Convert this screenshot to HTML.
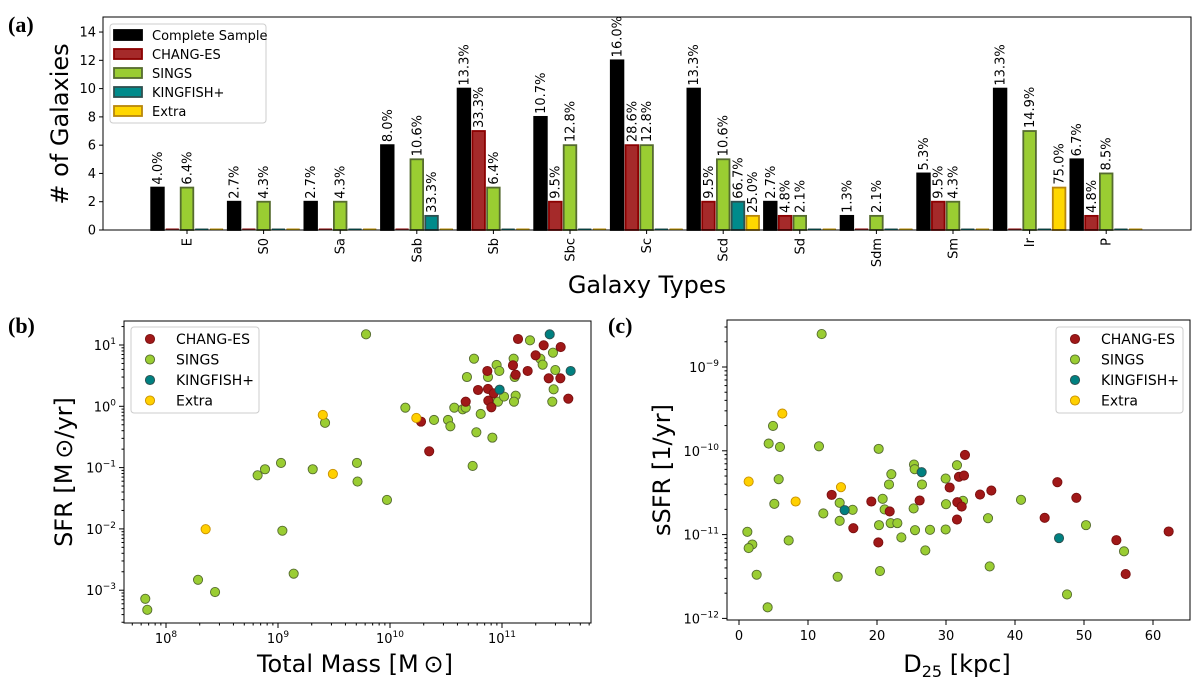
<!DOCTYPE html>
<html><head><meta charset="utf-8"><style>
html,body{margin:0;padding:0;background:#fff}
svg{display:block;font-family:"DejaVu Sans","Liberation Sans",sans-serif}
.pl{font-family:"Liberation Serif",serif;font-weight:bold;font-size:22px}
</style></head><body>
<svg id="fig" width="1200" height="691" viewBox="0 0 1200 691" xmlns="http://www.w3.org/2000/svg"></svg>
<script>
// ---------- Panel (a) data ----------
const categories = ["E","S0","Sa","Sab","Sb","Sbc","Sc","Scd","Sd","Sdm","Sm","Ir","P"];
const seriesNames = ["Complete Sample","CHANG-ES","SINGS","KINGFISH+","Extra"];
const completeCounts = [3,2,2,6,10,8,12,10,2,1,4,10,5];
const changesCounts  = [0,0,0,0,7,2,6,2,1,0,2,0,1];
const singsCounts    = [3,2,2,5,3,6,6,5,1,1,2,7,4];
const kingfishCounts = [0,0,0,1,0,0,0,2,0,0,0,0,0];
const extraCounts    = [0,0,0,0,0,0,0,1,0,0,0,3,0];
const completePct = ["4.0%","2.7%","2.7%","8.0%","13.3%","10.7%","16.0%","13.3%","2.7%","1.3%","5.3%","13.3%","6.7%"];
const changesPct  = ["","","","","33.3%","9.5%","28.6%","9.5%","4.8%","","9.5%","","4.8%"];
const singsPct    = ["6.4%","4.3%","4.3%","10.6%","6.4%","12.8%","12.8%","10.6%","2.1%","2.1%","4.3%","14.9%","8.5%"];
const kingfishPct = ["","","","33.3%","","","","66.7%","","","","",""];
const extraPct    = ["","","","","","","","25.0%","","","","75.0%",""];
const yTicksA = [0,2,4,6,8,10,12,14];

// ---------- Panel (b) data: [log10 mass, log10 SFR] ----------
const massSings = [9.786,7.815,7.833,8.286,8.438,8.818,8.884,9.027,9.039,9.14,9.31,9.42,9.705,9.71,9.973,10.137,10.393,10.518,10.539,10.574,10.649,10.676,10.687,10.738,10.75,10.771,10.81,10.875,10.914,10.905,10.952,10.976,10.964,11.018,11.104,11.113,11.122,11.107,11.25,11.342,11.363,11.455,11.476,11.461,11.449];
const sfrSings  = [1.174,-3.14,-3.32,-2.83,-3.03,-1.125,-1.027,-0.924,-2.03,-2.73,-1.027,-0.27,-0.924,-1.228,-1.527,-0.022,-0.223,-0.223,-0.326,-0.022,-0.049,-0.022,0.478,-0.973,0.777,-0.424,-0.125,0.478,-0.511,0.076,0.674,0.576,0.076,0.158,0.777,0.478,0.174,0.076,1.076,0.777,0.679,0.875,0.592,0.277,0.076];
const massChanges = [10.277,10.35,10.676,10.786,10.869,10.875,10.878,10.905,10.926,11.098,11.122,11.143,11.229,11.3,11.372,11.417,11.524,11.521,11.592];
const sfrChanges  = [-0.25,-0.734,0.076,0.266,0.576,0.283,0.092,-0.016,0.212,0.668,0.516,1.098,0.576,0.832,0.995,0.457,0.967,0.457,0.125];
const massKingfish = [10.979,11.426,11.613];
const sfrKingfish  = [0.272,1.174,0.576];
const massExtra = [8.354,9.40,9.49,10.235];
const sfrExtra  = [-2.005,-0.141,-1.103,-0.19];

// ---------- Panel (c) data: [D25 kpc, log10 sSFR] ----------
const dSings = [11.98,4.93,4.30,5.94,5.75,5.12,1.21,1.93,1.40,2.56,4.15,7.20,11.59,12.22,14.59,16.47,14.59,14.30,20.24,22.08,21.74,20.82,21.11,20.29,21.98,22.95,23.53,20.43,25.36,25.46,26.52,25.31,25.51,27.68,27.0,29.95,30.0,29.95,31.59,32.46,36.09,36.33,40.87,47.54,50.29,55.80];
const ssfrSings = [-8.607,-9.703,-9.914,-9.954,-10.339,-10.633,-10.967,-11.118,-11.161,-11.479,-11.868,-11.07,-9.946,-10.748,-10.621,-10.704,-10.836,-11.503,-9.977,-10.279,-10.402,-10.573,-10.7,-10.887,-10.863,-10.863,-11.034,-11.435,-10.164,-10.22,-10.402,-10.688,-10.947,-10.943,-11.189,-10.331,-10.637,-10.939,-10.172,-10.597,-10.804,-11.38,-10.585,-11.714,-10.887,-11.2];
const dChanges = [13.43,16.57,19.18,20.19,21.84,26.18,30.53,31.88,32.61,32.75,31.64,32.27,31.59,34.93,36.57,44.30,46.14,48.89,54.69,56.04,62.27];
const ssfrChanges = [-10.526,-10.923,-10.605,-11.094,-10.724,-10.593,-10.438,-10.311,-10.295,-10.049,-10.613,-10.665,-10.82,-10.522,-10.474,-10.8,-10.375,-10.561,-11.066,-11.471,-10.963];
const dKingfish = [15.31,26.47,46.38];
const ssfrKingfish = [-10.708,-10.255,-11.042];
const dExtra = [1.40,6.28,8.21,14.78];
const ssfrExtra = [-10.367,-9.556,-10.605,-10.434];

const NS="http://www.w3.org/2000/svg";
const svg=document.getElementById('fig');
function mk(tag,attrs,parent,text){const e=document.createElementNS(NS,tag);for(const k in attrs)e.setAttribute(k,attrs[k]);if(text!==undefined)e.textContent=text;(parent||svg).appendChild(e);return e;}

// ================= Panel (a) =================
const A={l:103,r:1191,t:17,b:230};
const xA=i=>187+76.6*i;
const yA=v=>A.b-v*14.14;
const fills=["#000000","#a52a2a","#9acd32","#008b8b","#ffd700"];
const strokes=["#000000","#8b0000","#556b2f","#2f4f4f","#b8860b"];
const countsAll=[completeCounts,changesCounts,singsCounts,kingfishCounts,extraCounts];
const pctAll=[completePct,changesPct,singsPct,kingfishPct,extraPct];
const gA=mk('g',{});


let t=mk('text',{x:8,y:32,class:'pl'},gA,'(a)');


for(let s=0;s<5;s++){
  for(let i=0;i<categories.length;i++){
    const cx=xA(i)+(s-2)*14.75;
    const v=countsAll[s][i];
    const h=Math.max(v*14.14,1.2);
    const r=mk('rect',{x:cx-6.3,y:A.b-h,width:12.6,height:h,fill:fills[s],stroke:strokes[s],'stroke-width':v>0?1.8:0.6},gA);
    
    
    if(v>0&&pctAll[s][i]){
      const tx=cx+4.5,ty=A.b-h-3;
      const lt=mk('text',{x:tx,y:ty,'font-size':13,transform:`rotate(-90 ${tx} ${ty})`,fill:'#000'},gA,pctAll[s][i]);
      
      
    }
  }
}
mk('rect',{x:A.l,y:A.t,width:A.r-A.l,height:A.b-A.t,fill:'none',stroke:'#000','stroke-width':1},gA);
for(const v of yTicksA){
  mk('line',{x1:A.l-4,x2:A.l,y1:yA(v),y2:yA(v),stroke:'#000'},gA);
  const tl=mk('text',{x:A.l-7,y:yA(v)+4.5,'font-size':13,'text-anchor':'end'},gA,String(v));
  
  
}
categories.forEach((c,i)=>{
  mk('line',{x1:xA(i),x2:xA(i),y1:A.b,y2:A.b+4,stroke:'#000'},gA);
  const tx=xA(i)+4.5,ty=A.b+8;
  const tl=mk('text',{x:tx,y:ty,'font-size':13,'text-anchor':'end',transform:`rotate(-90 ${tx} ${ty})`},gA,c);
  
  
});
t=mk('text',{x:647,y:293,'font-size':24,'text-anchor':'middle'},gA,'Galaxy Types');


t=mk('text',{x:68,y:124,'font-size':24,'text-anchor':'middle',transform:'rotate(-90 68 124)'},gA,'# of Galaxies');


const legA=mk('g',{},gA);


mk('rect',{x:110,y:24,width:156,height:99,rx:3,fill:'#fff',stroke:'#ccc','fill-opacity':0.85},legA);
seriesNames.forEach((n,s)=>{
  const y=35+s*19;
  const e=mk('g',{},legA);
  
  
  mk('rect',{x:114,y:y-5,width:28,height:10,fill:fills[s],stroke:strokes[s],'stroke-width':1.8},e);
  mk('text',{x:152,y:y+5,'font-size':13},e,n);
});

// ================= scatter helper =================
const sc=[
  {name:'CHANG-ES',fill:'#a01818',stroke:'#7a1010'},
  {name:'SINGS',fill:'#9acd32',stroke:'#556b2f'},
  {name:'KINGFISH+',fill:'#008080',stroke:'#2f4f4f'},
  {name:'Extra',fill:'#ffd000',stroke:'#c89000'}];
function supLabel(g,x,y,base,exp,anchor){
  const te=mk('text',{x:x,y:y,'font-size':13,'text-anchor':anchor},g);
  mk('tspan',{},te,base);
  mk('tspan',{dy:-6,'font-size':9},te,exp);
  
  
  return te;
}
function scatter(g,xs,ys,fx,fy,st,label){
  xs.forEach((v,i)=>{
    const c=mk('circle',{cx:fx(v),cy:fy(ys[i]),r:4.6,fill:st.fill,stroke:st.stroke,'stroke-width':0.9},g);
    
    
  });
}
function legend(g,x,y,w){
  const lg=mk('g',{},g);
  
  
  mk('rect',{x:x,y:y,width:w,height:86,rx:3,fill:'#fff',stroke:'#ccc','fill-opacity':0.85},lg);
  sc.forEach((s,i)=>{
    const yy=y+12+i*20.5;
    const e=mk('g',{},lg);
    
    
    mk('circle',{cx:x+19,cy:yy,r:4.6,fill:s.fill,stroke:s.stroke,'stroke-width':0.9},e);
    mk('text',{x:x+45,y:yy+5,'font-size':14},e,s.name);
  });
}

// ================= Panel (b) =================
const B={l:124,r:591,t:321,b:623};
const xB=lx=>166+(lx-8)*112;
const yB=ly=>345-(ly-1)*61.3;
const gB=mk('g',{});


t=mk('text',{x:8,y:333,class:'pl'},gB,'(b)');


mk('rect',{x:B.l,y:B.t,width:B.r-B.l,height:B.b-B.t,fill:'none',stroke:'#000'},gB);
for(let d=7;d<=11;d++){
  for(let m=1;m<10;m++){
    const x=xB(d+Math.log10(m));
    if(x<B.l||x>B.r)continue;
    mk('line',{x1:x,x2:x,y1:B.b,y2:B.b+(m==1?5:2.5),stroke:'#000'},gB);
  }
  if(xB(d)>B.l) supLabel(gB,xB(d),B.b+20,'10',String(d),'middle');
}
for(let d=-4;d<=1;d++){
  for(let m=1;m<10;m++){
    const y=yB(d+Math.log10(m));
    if(y<B.t||y>B.b)continue;
    mk('line',{x1:B.l-(m==1?5:2.5),x2:B.l,y1:y,y2:y,stroke:'#000'},gB);
  }
  if(yB(d)<B.b&&yB(d)>B.t) supLabel(gB,B.l-8,yB(d)+5,'10',d<0?'\u2212'+(-d):String(d),'end');
}
scatter(gB,massSings,sfrSings,xB,yB,sc[1],'sings');
scatter(gB,massChanges,sfrChanges,xB,yB,sc[0],'chang-es');
scatter(gB,massKingfish,sfrKingfish,xB,yB,sc[2],'kingfish');
scatter(gB,massExtra,sfrExtra,xB,yB,sc[3],'extra');
legend(gB,131,327,128);
t=mk('text',{x:355,y:672,'font-size':24,'text-anchor':'middle'},gB,'Total Mass [M\u2009\u2299]');


t=mk('text',{x:72,y:472,'font-size':24,'text-anchor':'middle',transform:'rotate(-90 72 472)'},gB,'SFR [M\u2009\u2299/yr]');



// ================= Panel (c) =================
const C={l:727,r:1190,t:320,b:620};
const xC=d=>739+d*6.9;
const yC=ly=>367-(ly+9)*83.8;
const gC=mk('g',{});


t=mk('text',{x:608,y:333,class:'pl'},gC,'(c)');


mk('rect',{x:C.l,y:C.t,width:C.r-C.l,height:C.b-C.t,fill:'none',stroke:'#000'},gC);
for(let v=0;v<=60;v+=10){
  mk('line',{x1:xC(v),x2:xC(v),y1:C.b,y2:C.b+5,stroke:'#000'},gC);
  const tl=mk('text',{x:xC(v),y:C.b+20,'font-size':13,'text-anchor':'middle'},gC,String(v));
  
  
}
for(let d=-12;d<=-9;d++){
  for(let m=1;m<10;m++){
    const y=yC(d+Math.log10(m));
    if(y<C.t||y>C.b+1)continue;
    mk('line',{x1:C.l-(m==1?5:2.5),x2:C.l,y1:y,y2:y,stroke:'#000'},gC);
  }
  supLabel(gC,C.l-8,yC(d)+5,'10','\u2212'+(-d),'end');
}
scatter(gC,dSings,ssfrSings,xC,yC,sc[1],'sings');
scatter(gC,dChanges,ssfrChanges,xC,yC,sc[0],'chang-es');
scatter(gC,dKingfish,ssfrKingfish,xC,yC,sc[2],'kingfish');
scatter(gC,dExtra,ssfrExtra,xC,yC,sc[3],'extra');
legend(gC,1056,327,127);
t=mk('text',{x:957,y:672,'font-size':24,'text-anchor':'middle'},gC);
mk('tspan',{},t,'D');
mk('tspan',{dy:5,'font-size':16},t,'25');
mk('tspan',{dy:-5},t,' [kpc]');


t=mk('text',{x:670,y:470,'font-size':24,'text-anchor':'middle',transform:'rotate(-90 670 470)'},gC,'sSFR [1/yr]');


</script>
</body></html>
